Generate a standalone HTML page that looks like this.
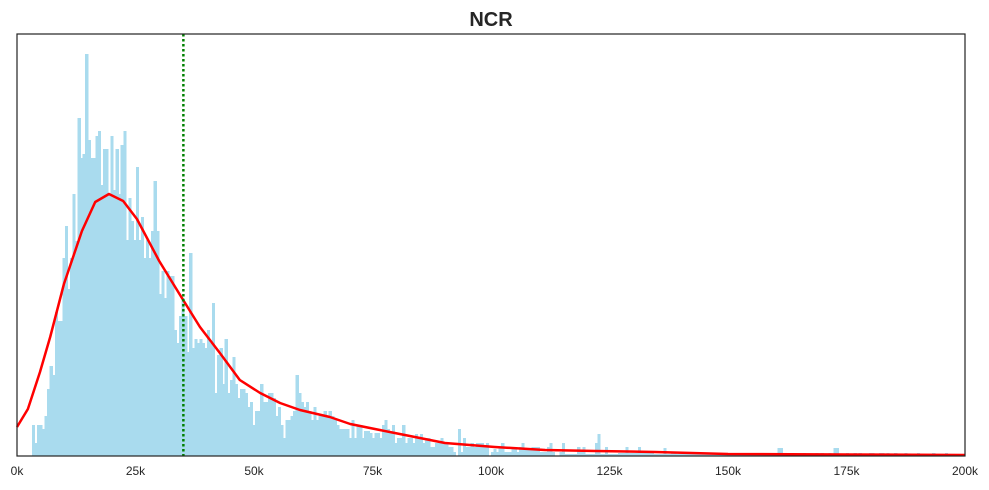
<!DOCTYPE html>
<html><head><meta charset="utf-8">
<style>
html,body{margin:0;padding:0;background:#fff;}
svg{display:block;font-family:"Liberation Sans",Arial,sans-serif;}
</style></head>
<body>
<svg id="chart" width="989" height="490" viewBox="0 0 989 490">
<text x="491" y="26" text-anchor="middle" font-size="20" font-weight="bold" fill="#262626">NCR</text>
<g id="bars" shape-rendering="crispEdges"></g>
<g id="kde"></g>
<g id="marker"></g>
<rect x="17" y="34" width="948" height="422" fill="none" stroke="#222" stroke-width="1.2"/>
<g id="xticks"></g>
</svg>
<script>
const binStart = 3.16;
const binWidth = 0.535;
const counts = [
31,13,31,31,27,40,67,90,81,144,135,135,198,230,167,198,262,215,338,298,
302,402,316,298,298,320,325,271,307,307,262,320,266,307,262,311,325,216,258,235,
216,289,216,239,198,216,198,225,275,225,162,185,158,185,180,180,126,113,140,158,140,
104,203,108,117,113,117,113,108,126,113,153,63,101,108,72,117,63,76,99,72,
58,67,67,63,49,54,31,45,45,72,54,54,63,63,58,40,49,31,18,36,
36,40,45,81,63,54,49,54,45,36,49,36,40,40,45,40,45,40,36,31,27,27,27,27,
18,36,18,31,31,18,25,25,23,18,23,23,18,31,36,27,23,31,13,18,18,31,13,18,18,13,22,18,22,13,
18,18,9,9,13,13,18,13,13,9,9,4,0,27,4,18,9,9,13,9,13,13,13,9,13,0,4,7,4,9,
13,4,4,4,7,7,4,9,13,7,7,7,9,9,9,4,4,4,9,13,4,0,0,4,13,2,2,2,2,2,
9,4,9,2,2,2,2,13,22,2,2,9,2,2,2,2,3,3,3,9,3,3,3,3,9,3,3,3,3,
3,2,2,2,2,8,2,2,3,3,2,2,2,3,2,2,3,2,2,2,3,2,2,2,2,2,3,2,2,2,3,3,2,2,2,2,3,3,2,2,
3,2,2,2,3,2,2,2,2,2,8,8,2,2,2,3,2,2,2,2,3,2,2,2,2,3,2,3,2,2,3,2,8,8,2,2,2,3,2,2,
3,2,3,2,2,2,3,3,2,2,3,3,2,3,2,2,3,2,2,2,3,2,2,2,2,3,2,2,2,2,2,3,2,2,2,2,3,2,2,2,2,2
];
const kdeX = [0,2.3,4.85,7,9.9,13.7,16.5,19.4,22.4,25.3,30,34.4,38.6,42.8,47,51.3,55.5,59.7,66,70.3,79.7,90.3,100.8,111.4,122,134.6,150,175,200];
const kdeY = [29,47,84,119,172,225,254,262,255,237,195,161,129,103,76,63,53,46,39,32,23,13,9,6,5,4,2,1.5,1];
const medianK = 35.1;
const tickVals = [0,25,50,75,100,125,150,175,200];
const tickLabels = ["0k","25k","50k","75k","100k","125k","150k","175k","200k"];

const X0=17, X1=965, Y0=456, Y1=34;
const xMax=200, yMax=422;
const sx = v => X0 + (v/xMax)*(X1-X0);
const sy = v => Y0 - (v/yMax)*(Y0-Y1);
const NS="http://www.w3.org/2000/svg";

const bars=document.getElementById('bars');
counts.forEach((c,i)=>{
  const a=binStart+i*binWidth, b=a+binWidth;
  const x=sx(a), w=sx(b)-x;
  const r=document.createElementNS(NS,'rect');
  r.setAttribute('x',x.toFixed(2));
  r.setAttribute('y',sy(c).toFixed(2));
  r.setAttribute('width',(w+0.6).toFixed(2));
  r.setAttribute('height',(Y0-sy(c)).toFixed(2));
  r.setAttribute('fill','#a9dbee');
  
  
  bars.appendChild(r);
});

const kde=document.getElementById('kde');
const p=document.createElementNS(NS,'polyline');
p.setAttribute('points',kdeX.map((x,i)=>sx(x).toFixed(2)+','+sy(kdeY[i]).toFixed(2)).join(' '));
p.setAttribute('fill','none');
p.setAttribute('stroke','#ff0000');
p.setAttribute('stroke-width','2.5');
p.setAttribute('stroke-linejoin','round');


kde.appendChild(p);

const m=document.createElementNS(NS,'line');
m.setAttribute('x1',sx(medianK));m.setAttribute('x2',sx(medianK));
m.setAttribute('y1',Y1);m.setAttribute('y2',Y0);
m.setAttribute('stroke','#008000');
m.setAttribute('stroke-width','2.5');
m.setAttribute('stroke-dasharray','2.5,2.5');


document.getElementById('marker').appendChild(m);

const xt=document.getElementById('xticks');
tickVals.forEach((v,i)=>{
  const t=document.createElementNS(NS,'text');
  t.setAttribute('x',sx(v));
  t.setAttribute('y',475);
  t.setAttribute('text-anchor','middle');
  t.setAttribute('font-size','12');
  t.setAttribute('fill','#262626');
  t.textContent=tickLabels[i];
  
  
  xt.appendChild(t);
});
</script>
</body></html>
